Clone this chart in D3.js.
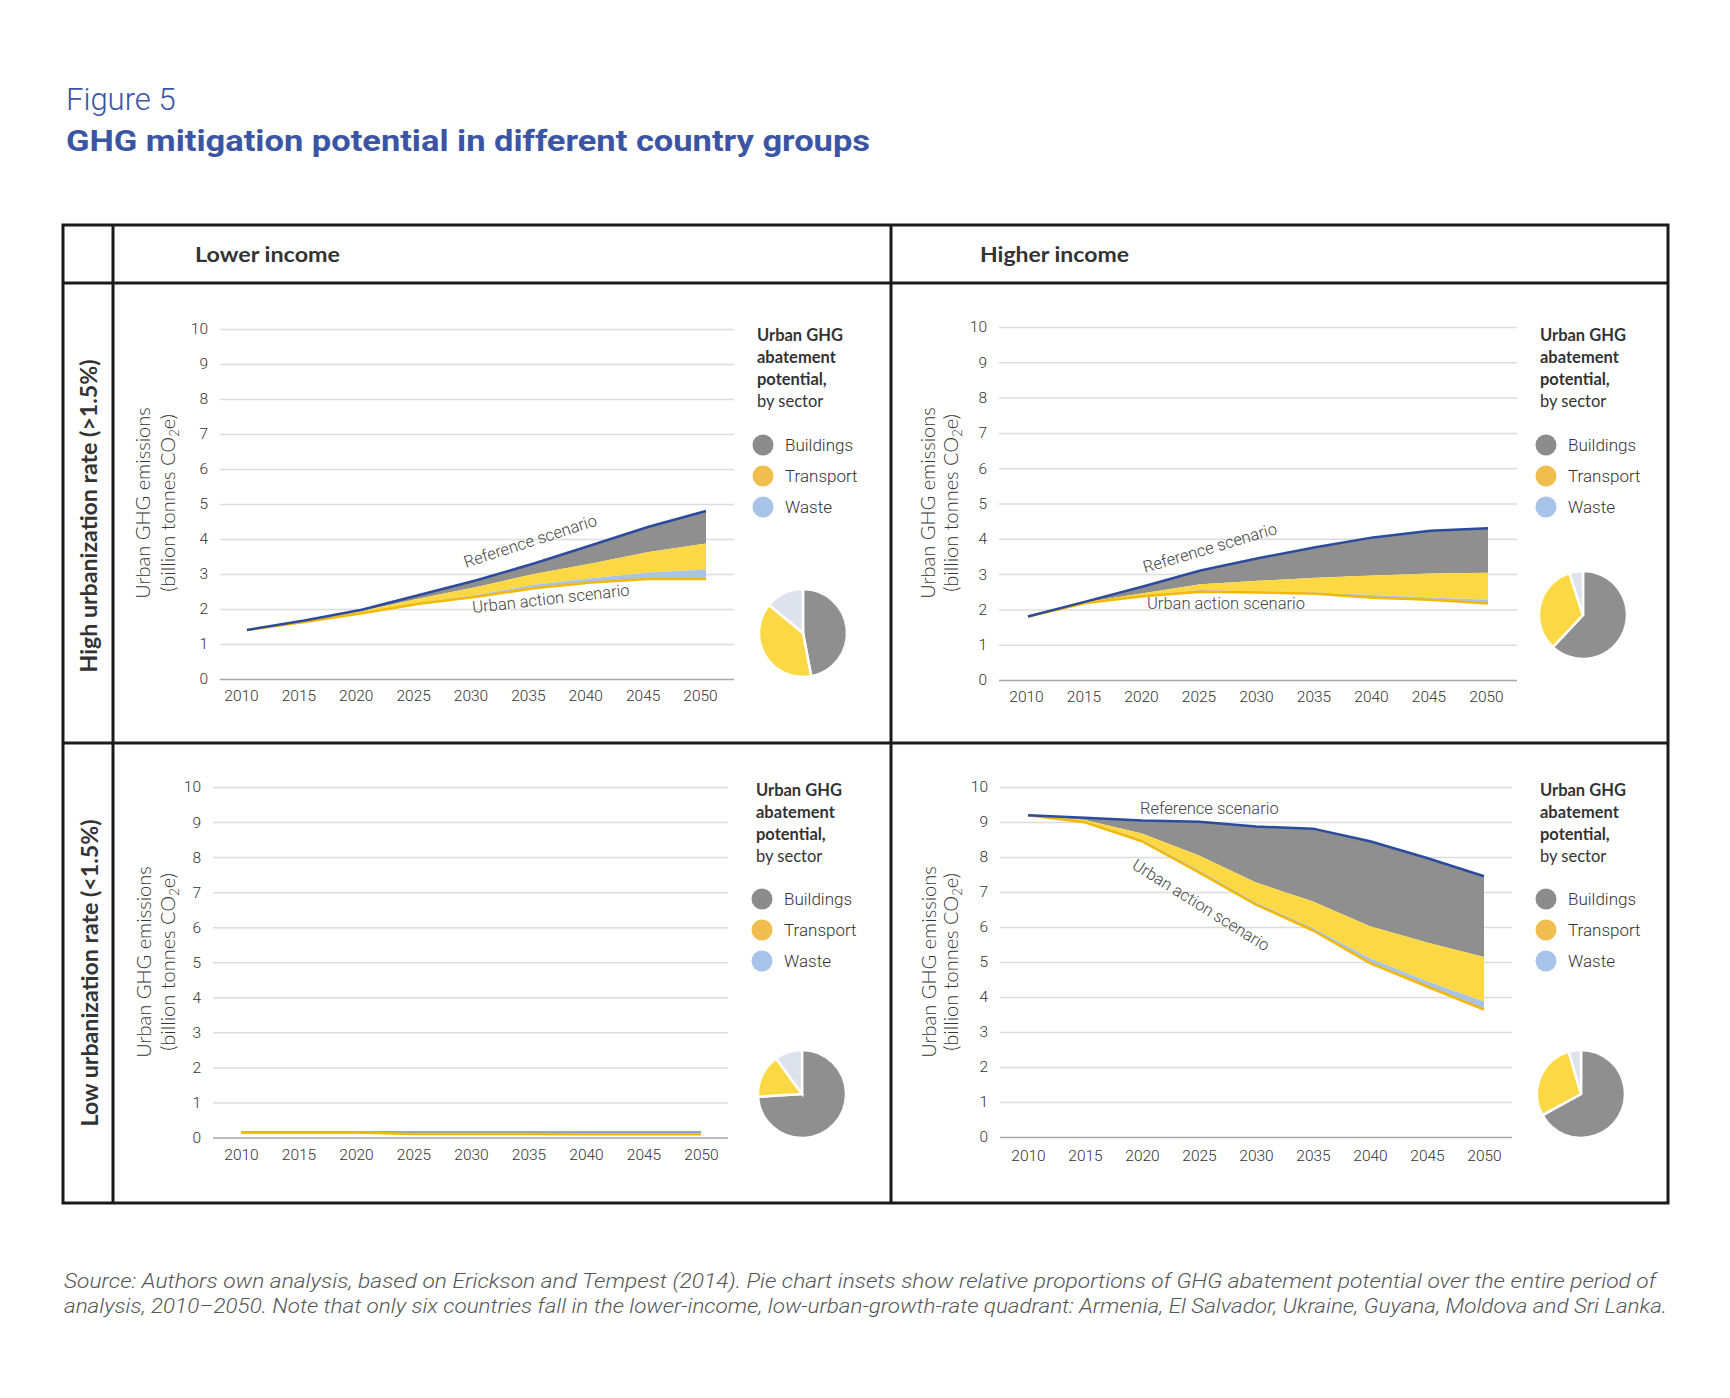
<!DOCTYPE html>
<html lang="en">
<head>
<meta charset="UTF-8">
<script src="https://d3js.org/d3.v7.min.js"></script>
<title>GHG mitigation potential</title>
<style>
  body { margin: 0; background: #fff; }
  svg { display: block; }
</style>
</head>
<body>
<svg id="chart" width="1730" height="1398"></svg>
<script>

// ---- data ----
const years = [2010, 2015, 2020, 2025, 2030, 2035, 2040, 2045, 2050];
const yTicks = [0, 1, 2, 3, 4, 5, 6, 7, 8, 9, 10];
const sectors = ["Buildings", "Transport", "Waste"];

// lower income, high urbanization
const refLH = [1.40, 1.67, 1.98, 2.40, 2.82, 3.30, 3.82, 4.35, 4.80];
const bldLH = [1.40, 1.65, 1.94, 2.30, 2.63, 3.00, 3.30, 3.63, 3.87];
const wstLH = [1.40, 1.63, 1.90, 2.18, 2.40, 2.69, 2.88, 3.04, 3.13];
const actLH = [1.40, 1.63, 1.88, 2.15, 2.35, 2.59, 2.76, 2.86, 2.86];
const pieLH = [47, 39, 14];

// higher income, high urbanization
const refHH = [1.80, 2.22, 2.65, 3.10, 3.45, 3.76, 4.04, 4.23, 4.30];
const bldHH = [1.80, 2.20, 2.46, 2.71, 2.81, 2.90, 2.96, 3.02, 3.04];
const wstHH = [1.80, 2.18, 2.39, 2.55, 2.51, 2.48, 2.41, 2.34, 2.27];
const actHH = [1.80, 2.18, 2.37, 2.50, 2.48, 2.44, 2.33, 2.27, 2.17];
const pieHH = [62, 33, 5];

// lower income, low urbanization
const refLL = [0.15, 0.15, 0.15, 0.15, 0.15, 0.15, 0.15, 0.15, 0.15];
const bldLL = [0.15, 0.15, 0.15, 0.15, 0.15, 0.15, 0.15, 0.15, 0.15];
const wstLL = [0.15, 0.15, 0.15, 0.14, 0.14, 0.14, 0.14, 0.14, 0.14];
const actLL = [0.14, 0.14, 0.14, 0.10, 0.10, 0.10, 0.09, 0.09, 0.09];
const pieLL = [74, 16, 10];

// higher income, low urbanization
const refHL = [9.19, 9.12, 9.04, 9.01, 8.87, 8.81, 8.45, 7.97, 7.45];
const bldHL = [9.19, 9.06, 8.67, 8.04, 7.27, 6.73, 6.02, 5.56, 5.14];
const wstHL = [9.19, 9.02, 8.49, 7.62, 6.70, 5.97, 5.11, 4.45, 3.87];
const actHL = [9.19, 8.99, 8.45, 7.56, 6.64, 5.90, 4.97, 4.30, 3.64];
const pieHL = [67, 28.5, 4.5];

// ---- styles ----
const areaColors = { Buildings: "#8f8f8f", Transport: "#fcd944", Waste: "#a9c2e6" };
const legendColors = { Buildings: "#8c8c8c", Transport: "#efbe4e", Waste: "#a8c3e8" };
const pieColors = { Buildings: "#8f8f8f", Transport: "#fcd944", Waste: "#dde2ec" };
const refColor = "#2d4b9c";
const actColor = "#f3b800";
const condensed = "Roboto, 'Liberation Sans', sans-serif";
const geometric = "Lato, 'Open Sans', sans-serif";

const svg = d3.select("#chart");

// ---- title ----
svg.append("text")
   .attr("x", 66).attr("y", 110)
   .attr("fill", "#3b54a4")
   .style("font-family", condensed).style("font-weight", 300).style("font-size", "31px")
   .text("Figure 5");
svg.append("text")
   .attr("x", 66).attr("y", 151)
   .attr("fill", "#3b54a4")
   .attr("textLength", 804).attr("lengthAdjust", "spacingAndGlyphs")
   .style("font-family", condensed).style("font-weight", 700).style("font-size", "29px")
   .text("GHG mitigation potential in different country groups");

// ---- table frame ----
const frame = svg.append("g").attr("stroke", "#1a1a1a").attr("stroke-width", 3).attr("fill", "none");
frame.append("rect").attr("x", 63).attr("y", 225).attr("width", 1605).attr("height", 978);
[[63, 283, 1668, 283], [63, 743, 1668, 743], [113, 225, 113, 1203], [891, 225, 891, 1203]]
  .forEach(l => frame.append("line")
      .attr("x1", l[0]).attr("y1", l[1]).attr("x2", l[2]).attr("y2", l[3]));

const headers = [
  { text: "Lower income", x: 195, len: 145 },
  { text: "Higher income", x: 980, len: 149 }
];
headers.forEach(h => {
  svg.append("text")
     .attr("x", h.x).attr("y", 262)
     .attr("fill", "#333")
     .attr("textLength", h.len).attr("lengthAdjust", "spacingAndGlyphs")
     .style("font-family", geometric).style("font-weight", 700).style("font-size", "21px")
     .text(h.text);
});

const rowLabels = [
  { text: "High urbanization rate (>1.5%)", cx: 89, cy: 516, len: 313 },
  { text: "Low urbanization rate (<1.5%)", cx: 90, cy: 973, len: 307 }
];
rowLabels.forEach(r => {
  svg.append("text")
     .attr("transform", `translate(${r.cx},${r.cy}) rotate(-90)`)
     .attr("text-anchor", "middle").attr("dy", "0.36em")
     .attr("fill", "#333")
     .attr("textLength", r.len).attr("lengthAdjust", "spacingAndGlyphs")
     .style("font-family", geometric).style("font-weight", 700).style("font-size", "22px")
     .text(r.text);
});

// ---- panels ----
const panels = [
  { ref: refLH, bld: bldLH, wst: wstLH, act: actLH, pie: pieLH,
    gx: [220, 734], dx: [247, 706], y0: 679, y10: 329, xPad: 11, xShift: -6,
    refStroke: refColor,
    yt: [143, 168, 503], lg: [757, 341, 445], pc: [803, 633],
    notes: [
      { text: "Reference scenario", x: 466, y: 568, rot: -18 },
      { text: "Urban action scenario", x: 473, y: 613, rot: -6.4 }
    ] },
  { ref: refHH, bld: bldHH, wst: wstHH, act: actHH, pie: pieHH,
    gx: [999, 1517], dx: [1028, 1488], y0: 680, y10: 327, xPad: 11, xShift: -2,
    refStroke: refColor,
    yt: [928, 951, 503], lg: [1540, 341, 445], pc: [1583, 615],
    notes: [
      { text: "Reference scenario", x: 1145, y: 573, rot: -16.5 },
      { text: "Urban action scenario", x: 1147, y: 609, rot: 0 }
    ] },
  { ref: refLL, bld: bldLL, wst: wstLL, act: actLL, pie: pieLL,
    gx: [213, 728], dx: [241, 701], y0: 1137.5, y10: 787, xPad: 11, xShift: 0,
    refStroke: "#7ea9e2",
    yt: [144, 168, 962], lg: [756, 796, 899], pc: [802, 1094],
    notes: [] },
  { ref: refHL, bld: bldHL, wst: wstHL, act: actHL, pie: pieHL,
    gx: [1000, 1512], dx: [1028, 1484], y0: 1137, y10: 787, xPad: 13, xShift: 0,
    refStroke: refColor,
    yt: [929, 951, 962], lg: [1540, 796, 899], pc: [1581, 1094],
    notes: [
      { text: "Reference scenario", x: 1140, y: 814, rot: 0 },
      { text: "Urban action scenario", x: 1131, y: 868, rot: 32 }
    ] }
];

panels.forEach(drawPanel);

function drawPanel(p) {
  const g = svg.append("g");
  const x = d3.scaleLinear().domain([2010, 2050]).range(p.dx);
  const y = d3.scaleLinear().domain([0, 10]).range([p.y0, p.y10]);

  // y axis with gridlines
  const yAxis = d3.axisLeft(y).tickValues(yTicks).tickFormat(d3.format("d"))
                  .tickSize(-(p.gx[1] - p.gx[0])).tickPadding(12);
  const ya = g.append("g")
     .attr("transform", `translate(${p.gx[0]},0)`)
     .call(yAxis);
  ya.select(".domain").remove();
  ya.selectAll(".tick line")
    .attr("stroke", d => d === 0 ? "#a6a6a6" : "#dcdcdc")
    .attr("stroke-width", 1.5);
  ya.selectAll(".tick text")
    .attr("fill", "#333")
    .style("font-family", condensed).style("font-weight", 300).style("font-size", "15.5px");

  // x axis labels
  const xAxis = d3.axisBottom(x).tickValues(years).tickFormat(d3.format("d"))
                  .tickSize(0).tickPadding(p.xPad);
  const xa = g.append("g")
     .attr("transform", `translate(${p.xShift},${p.y0})`)
     .call(xAxis);
  xa.select(".domain").remove();
  xa.selectAll(".tick text")
    .attr("fill", "#333")
    .style("font-family", condensed).style("font-weight", 300).style("font-size", "15.5px");

  // stacked abatement bands
  const idx = d3.range(years.length);
  const band = (top, bottom) => d3.area()
      .x(i => x(years[i]))
      .y0(i => y(bottom[i]))
      .y1(i => y(top[i]));
  g.append("path").datum(idx).attr("fill", areaColors.Buildings).attr("d", band(p.ref, p.bld));
  g.append("path").datum(idx).attr("fill", areaColors.Transport).attr("d", band(p.bld, p.wst));
  g.append("path").datum(idx).attr("fill", areaColors.Waste).attr("d", band(p.wst, p.act));

  // scenario lines: the dark reference outline goes on top of the action line
  const line = vals => d3.line().x(i => x(years[i])).y(i => y(vals[i]));
  const scen = [
    { vals: p.act, color: actColor },
    { vals: p.ref, color: p.refStroke }
  ];
  if (p.refStroke !== refColor) scen.reverse();
  scen.forEach(s => {
    g.append("path").datum(idx)
       .attr("fill", "none").attr("stroke", s.color).attr("stroke-width", 2.5)
       .attr("stroke-linejoin", "round")
       .attr("d", line(s.vals));
  });

  // scenario notes
  p.notes.forEach(n => {
    g.append("text")
     .attr("transform", `translate(${n.x},${n.y}) rotate(${n.rot})`)
     .attr("fill", "#444")
     .style("font-family", condensed).style("font-weight", 300).style("font-size", "16.5px")
     .text(n.text);
  });

  // y axis title
  const midY = p.yt[2];
  g.append("text")
   .attr("transform", `translate(${p.yt[0]},${midY}) rotate(-90)`)
   .attr("text-anchor", "middle").attr("dy", "0.36em")
   .attr("fill", "#333")
   .style("font-family", geometric).style("font-weight", 300).style("font-size", "20px")
   .text("Urban GHG emissions");
  const t2 = g.append("text")
   .attr("transform", `translate(${p.yt[1]},${midY}) rotate(-90)`)
   .attr("text-anchor", "middle").attr("dy", "0.36em")
   .attr("fill", "#333")
   .style("font-family", geometric).style("font-weight", 300).style("font-size", "20px");
  t2.append("tspan").text("(billion tonnes CO");
  t2.append("tspan").attr("dy", 4).style("font-size", "13px").text("2");
  t2.append("tspan").attr("dy", -4).text("e)");

  // legend
  const lx = p.lg[0], ly = p.lg[1];
  const titleLines = [
    { t: "Urban GHG", w: 700 },
    { t: "abatement", w: 700 },
    { t: "potential,", w: 700 },
    { t: "by sector", w: 400 }
  ];
  titleLines.forEach((l, i) => {
    g.append("text")
     .attr("x", lx).attr("y", ly + i * 22)
     .attr("fill", "#333")
     .style("font-family", geometric).style("font-weight", l.w).style("font-size", "16.5px")
     .text(l.t);
  });
  sectors.forEach((s, i) => {
    const cy = p.lg[2] + i * 31;
    g.append("circle")
     .attr("cx", lx + 6).attr("cy", cy).attr("r", 10.5)
     .attr("fill", legendColors[s]);
    g.append("text")
     .attr("x", lx + 28).attr("y", cy).attr("dy", "0.35em")
     .attr("fill", "#333")
     .style("font-family", condensed).style("font-weight", 300).style("font-size", "17px")
     .text(s);
  });

  // pie of abatement shares
  const pie = d3.pie().sort(null).value(d => d.v);
  const arc = d3.arc().innerRadius(0).outerRadius(44);
  const slices = pie(sectors.map((s, i) => ({ s: s, v: p.pie[i] })));
  g.append("g")
   .attr("transform", `translate(${p.pc[0]},${p.pc[1]})`)
   .selectAll("path")
   .data(slices)
   .join("path")
     .attr("d", arc)
     .attr("fill", d => pieColors[d.data.s])
     .attr("stroke", "#fff").attr("stroke-width", 2.5);
}

// ---- source note ----
const notes = [
  { t: "Source: Authors own analysis, based on Erickson and Tempest (2014). Pie chart insets show relative proportions of GHG abatement potential over the entire period of", y: 1288, len: 1592 },
  { t: "analysis, 2010\u20132050. Note that only six countries fall in the lower-income, low-urban-growth-rate quadrant: Armenia, El Salvador, Ukraine, Guyana, Moldova and Sri Lanka.", y: 1313, len: 1603 }
];
notes.forEach(n => {
  svg.append("text")
     .attr("x", 64).attr("y", n.y)
     .attr("fill", "#555")
     .attr("textLength", n.len).attr("lengthAdjust", "spacingAndGlyphs")
     .style("font-family", condensed).style("font-style", "italic").style("font-weight", 300)
     .style("font-size", "19.5px")
     .text(n.t);
});

</script>
</body>
</html>
